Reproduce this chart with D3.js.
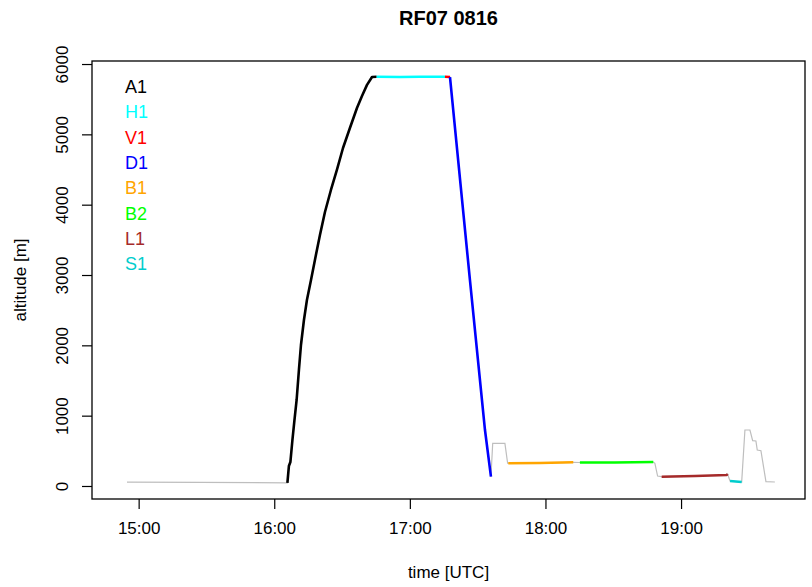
<!DOCTYPE html>
<html lang="en">
<head>
    <meta charset="UTF-8">
    <title>RF07 0816</title>
    <script src="https://d3js.org/d3.v7.min.js"></script>
    <style>
        body { margin: 0; background: #fff; }
        text { font-family: "Liberation Sans", Arial, Helvetica, sans-serif; }
    </style>
</head>
<body>
    <script>
        // flight track, time in decimal hours UTC, altitude in m
        const trackTime = [14.914, 15.452, 16.097, 16.108, 16.119, 16.134, 16.149, 16.165, 16.182, 16.197,
            16.219, 16.241, 16.271, 16.300, 16.337, 16.374, 16.418, 16.462, 16.507, 16.558,
            16.610, 16.647, 16.684, 16.721, 16.755, 16.927, 17.074, 17.259, 17.296, 17.443,
            17.554, 17.598, 17.611, 17.701, 17.721, 17.726, 17.959, 18.205, 18.254, 18.512,
            18.795, 18.807, 18.827, 18.857, 19.103, 19.337, 19.343, 19.348, 19.361, 19.447,
            19.471, 19.508, 19.528, 19.552, 19.562, 19.589, 19.626, 19.692];
        const trackAlt = [55, 50, 45, 284, 341, 654, 938, 1223, 1650, 2005,
            2360, 2645, 2930, 3215, 3569, 3896, 4209, 4494, 4806, 5090,
            5375, 5546, 5703, 5816, 5820, 5815, 5820, 5818, 5815, 2930,
            796, 132, 607, 607, 323, 323, 327, 337, 334, 334,
            341, 323, 142, 132, 142, 156, 171, 142, 71, 57,
            796, 796, 644, 640, 512, 502, 61, 57];

        // flight legs
        const legNames = ["A1", "H1", "V1", "D1", "B1", "B2", "L1", "S1"];
        const legColors = ["#000000", "#00ffff", "#ff0000", "#0000ff", "#ffa500", "#00ff00", "#a52a2a", "#00cdcd"];
        const legStart = [16.097, 16.755, 17.259, 17.296, 17.726, 18.254, 18.857, 19.361];
        const legEnd = [16.755, 17.259, 17.296, 17.598, 18.205, 18.795, 19.343, 19.447];

        const xTicks = [15, 16, 17, 18, 19];
        const yTicks = [0, 1000, 2000, 3000, 4000, 5000, 6000];

        const width = 812, height = 587;
        const plot = { left: 92, right: 805, top: 61, bottom: 499 };

        const svg = d3.select("body").append("svg")
            .attr("width", width)
            .attr("height", height);

        const x = d3.scaleLinear().domain([14.656, 19.914]).range([plot.left, plot.right]);
        const y = d3.scaleLinear().domain([-185, 6043]).range([plot.bottom, plot.top]);

        const track = trackTime.map((t, i) => ({ t: t, alt: trackAlt[i] }));

        const line = d3.line().x(d => x(d.t)).y(d => y(d.alt));

        svg.append("path")
            .datum(track)
            .attr("fill", "none")
            .attr("stroke", "#bebebe")
            .attr("stroke-width", 1.2)
            .attr("d", line);

        legNames.forEach((name, i) => {
            const pts = track.filter(d => d.t >= legStart[i] - 1e-6 && d.t <= legEnd[i] + 1e-6);
            svg.append("path")
                .datum(pts)
                .attr("fill", "none")
                .attr("stroke", legColors[i])
                .attr("stroke-width", 2.6)
                .attr("stroke-linejoin", "round")
                .attr("d", line);
        });

        // box
        svg.append("rect")
            .attr("x", plot.left).attr("y", plot.top)
            .attr("width", plot.right - plot.left)
            .attr("height", plot.bottom - plot.top)
            .attr("fill", "none")
            .attr("stroke", "#000")
            .attr("stroke-width", 1.3);

        // x axis
        const xAxis = svg.append("g")
            .attr("transform", `translate(0,${plot.bottom})`)
            .call(d3.axisBottom(x).tickValues(xTicks).tickSize(10)
                .tickFormat(d => d3.format("02d")(d) + ":00"));
        xAxis.select(".domain").remove();
        xAxis.selectAll(".tick line").attr("stroke", "#000").attr("stroke-width", 1.2);
        xAxis.selectAll(".tick text")
            .attr("y", 29).attr("dy", null)
            .attr("dominant-baseline", "central")
            .attr("font-size", 17).attr("fill", "#000");

        // y axis
        const yAxis = svg.append("g")
            .attr("transform", `translate(${plot.left},0)`)
            .call(d3.axisLeft(y).tickValues(yTicks).tickSize(10).tickFormat(d3.format("d")));
        yAxis.select(".domain").remove();
        yAxis.selectAll(".tick line").attr("stroke", "#000").attr("stroke-width", 1.2);
        yAxis.selectAll(".tick text")
            .attr("x", 0).attr("y", -30).attr("dy", null)
            .attr("transform", "rotate(-90)")
            .attr("text-anchor", "middle")
            .attr("dominant-baseline", "central")
            .attr("font-size", 17).attr("fill", "#000");

        // titles
        svg.append("text")
            .attr("x", (plot.left + plot.right) / 2).attr("y", 18)
            .attr("text-anchor", "middle").attr("dominant-baseline", "central")
            .attr("font-size", 20).attr("font-weight", "bold")
            .text("RF07 0816");

        svg.append("text")
            .attr("x", (plot.left + plot.right) / 2).attr("y", 572)
            .attr("text-anchor", "middle").attr("dominant-baseline", "central")
            .attr("font-size", 17)
            .text("time [UTC]");

        svg.append("text")
            .attr("transform", `translate(20,${(plot.top + plot.bottom) / 2}) rotate(-90)`)
            .attr("text-anchor", "middle").attr("dominant-baseline", "central")
            .attr("font-size", 17)
            .text("altitude [m]");

        // legend
        svg.append("g").selectAll("text")
            .data(legNames)
            .enter().append("text")
            .attr("x", 125)
            .attr("y", (d, i) => 87 + i * 25.3)
            .attr("dominant-baseline", "central")
            .attr("font-size", 18)
            .attr("fill", (d, i) => legColors[i])
            .text(d => d);
    </script>
</body>
</html>
